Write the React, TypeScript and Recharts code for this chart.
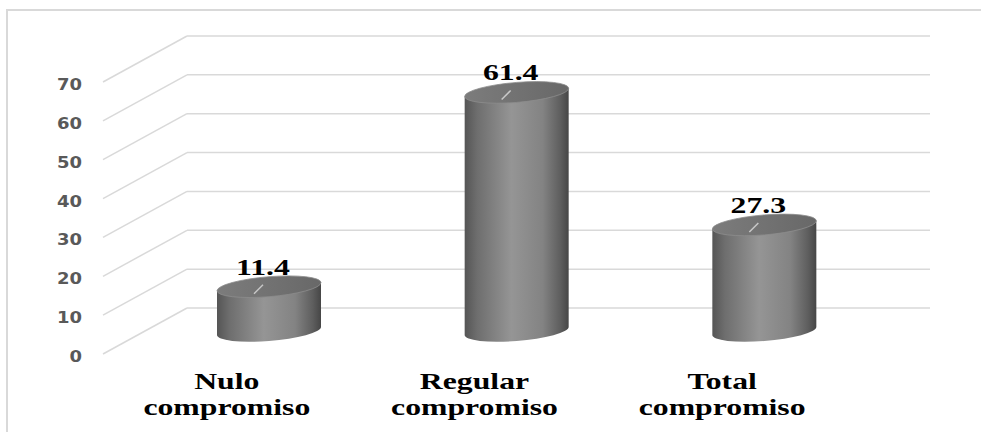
import React from 'react';
import { BarChart, Bar, XAxis, YAxis, LabelList, CartesianGrid } from 'recharts';

const categories = ['Nulo compromiso', 'Regular compromiso', 'Total compromiso'];
const values = [11.4, 61.4, 27.3];
const yTicks = [0, 10, 20, 30, 40, 50, 60, 70];

// depth of the fake 3d floor (front plane -> back wall)
const DEPTH_X = 84;
const DEPTH_Y = 46;
const DX = DEPTH_X / 2;
const DY = DEPTH_Y / 2;
const RY = 10;
const GRID = '#d9d9d9';
const SERIF = "'Liberation Serif', 'Times New Roman', serif";

const data = categories.map((name, i) => ({ name, value: values[i] }));

const Cylinder = (props: any) => {
  const { x, y, width, height, index } = props;
  const l = x + DX;
  const r = x + width + DX;
  const cx = (l + r) / 2;
  const rx = width / 2;
  const top = y - DY;
  const bot = y + height - DY;
  const id = `cyl-${index}`;
  return (
    <g transform={`translate(${cx},${bot}) skewY(-4.5) translate(${-cx},${-bot})`}>
      <defs>
        <linearGradient id={`${id}-side`} x1="0" x2="1" y1="0" y2="0">
          <stop offset="0" stopColor="#555555" />
          <stop offset="0.12" stopColor="#6e6e6e" />
          <stop offset="0.45" stopColor="#959595" />
          <stop offset="0.75" stopColor="#838383" />
          <stop offset="0.92" stopColor="#5e5e5e" />
          <stop offset="1" stopColor="#464646" />
        </linearGradient>
        <linearGradient id={`${id}-top`} x1="0" x2="1" y1="0" y2="0">
          <stop offset="0" stopColor="#7c7c7c" />
          <stop offset="1" stopColor="#686868" />
        </linearGradient>
      </defs>
      <path
        d={`M${l},${top} L${l},${bot} A${rx},${RY} 0 0 0 ${r},${bot} L${r},${top} Z`}
        fill={`url(#${id}-side)`}
      />
      <ellipse cx={cx} cy={top} rx={rx} ry={RY} fill={`url(#${id}-top)`} stroke="#8c8c8c" strokeWidth={0.8} />
    </g>
  );
};

const ValueLabel = (props: any) => {
  const { x, y, width, value } = props;
  const cx = x + width / 2 + DX - 6;
  const base = y - DY - RY - 2;
  return (
    <g>
      <line x1={cx} y1={base + 10} x2={cx - 9} y2={base + 19} stroke="#c8c8c8" strokeWidth={1.5} />
      <text
        transform={`translate(${cx},${base}) scale(1.38,1)`}
        textAnchor="middle"
        style={{ fontFamily: SERIF, fontWeight: 'bold', fontSize: 23 }}
        fill="#000"
      >
        {value}
      </text>
    </g>
  );
};

// floor diagonal + back wall line for each y tick
const GridLine = (props: any) => {
  const { x1, x2, y1 } = props;
  return (
    <g key={props.key}>
      <line x1={x1} y1={y1} x2={x1 + DEPTH_X} y2={y1 - DEPTH_Y} stroke={GRID} strokeWidth={1.5} />
      <line x1={x1 + DEPTH_X} y1={y1 - DEPTH_Y} x2={x2 + DEPTH_X} y2={y1 - DEPTH_Y} stroke={GRID} strokeWidth={1.5} />
    </g>
  );
};

const ValueTick = (props: any) => {
  const { y, payload } = props;
  return (
    <text
      transform={`translate(82,${y + 8}) scale(1.2,1)`}
      textAnchor="end"
      style={{ fontFamily: "'DejaVu Sans'", fontWeight: 'bold', fontSize: 15 }}
      fill="#595959"
    >
      {payload.value}
    </text>
  );
};

const CategoryTick = (props: any) => {
  const { x, y, payload } = props;
  const words = String(payload.value).split(' ');
  return (
    <g>
      {words.map((w, i) => (
        <text
          key={i}
          transform={`translate(${x},${y + 35 + i * 26}) scale(1.38,1)`}
          textAnchor="middle"
          style={{ fontFamily: SERIF, fontWeight: 'bold', fontSize: 23 }}
          fill="#000"
        >
          {w}
        </text>
      ))}
    </g>
  );
};

export default function App() {
  return (
    <div style={{ position: 'absolute', left: 0, top: 0, width: 981, height: 432, overflow: 'hidden', background: '#fff' }}>
      <div style={{ position: 'absolute', left: 6, top: 9, width: 1000, height: 500, border: `2px solid ${GRID}` }} />
      <div style={{ position: 'absolute', left: 0, top: 0 }}>
        <BarChart width={981} height={432} data={data} margin={{ top: 82, right: 135, bottom: 0, left: 0 }}>
          <CartesianGrid vertical={false} horizontal={(p: any) => <GridLine {...p} />} />
          <YAxis
            width={103}
            domain={[0, 70]}
            ticks={yTicks}
            axisLine={false}
            tickLine={false}
            tick={<ValueTick />}
          />
          <XAxis
            dataKey="name"
            height={78}
            axisLine={false}
            tickLine={false}
            tickSize={0}
            tickMargin={0}
            interval={0}
            tick={<CategoryTick />}
          />
          <Bar dataKey="value" barSize={104} isAnimationActive={false} shape={(p: any) => <Cylinder {...p} />}>
            <LabelList dataKey="value" content={<ValueLabel />} />
          </Bar>
        </BarChart>
      </div>
    </div>
  );
}
